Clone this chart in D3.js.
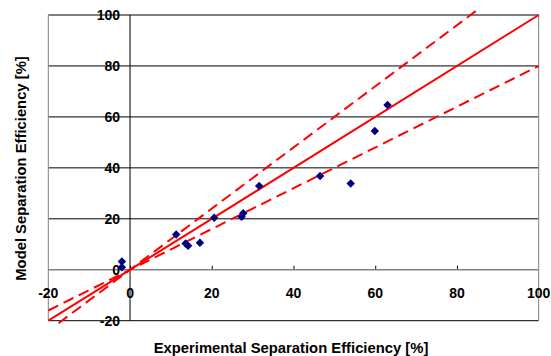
<!DOCTYPE html>
<html>
<head>
<meta charset="utf-8">
<script src="https://cdn.jsdelivr.net/npm/d3@7"></script>
<style>
  body { margin: 0; background: #fff; }
  svg text { font-family: Arial, "Liberation Sans", sans-serif; font-weight: bold; fill: #000; }
</style>
</head>
<body>
<svg id="chart" width="551" height="356"></svg>
<script>
// measured vs modelled separation efficiency [%]
const experimental = [-2.0, -2.0, 11.3, 13.6, 14.2, 17.1, 20.6, 27.3, 27.7, 31.6, 46.5, 54.0, 59.9, 63.0];
const model        = [ 3.2,  1.0, 13.8, 10.3,  9.4, 10.6, 20.4, 20.8, 22.2, 32.9, 36.8, 33.9, 54.5, 64.7];

// parity line and +/-20 % bounds, as [x, y] end points
const parityLine = [[-20, -20], [100, 100]];
const upperBound = [[-17.5, -21], [85, 102]];
const lowerBound = [[-20, -16], [100, 80]];

const xTicks = [-20, 0, 20, 40, 60, 80, 100];
const yTicks = [-20, 0, 20, 40, 60, 80, 100];

const width = 551, height = 356;
const margin = { top: 15, right: 12.3, bottom: 35.3, left: 48.3 };

const svg = d3.select('#chart');

const x = d3.scaleLinear().domain([-20, 100]).range([margin.left, width - margin.right]);
const y = d3.scaleLinear().domain([-20, 100]).range([height - margin.bottom, margin.top]);

// horizontal gridlines
svg.append('g')
    .selectAll('line')
    .data(yTicks.filter(d => d !== 0))
    .join('line')
    .attr('x1', x(-20)).attr('x2', x(100))
    .attr('y1', d => y(d)).attr('y2', d => y(d))
    .attr('stroke', '#000')
    .attr('stroke-width', 1);

// left / right frame
svg.append('g')
    .selectAll('line')
    .data([-20, 100])
    .join('line')
    .attr('x1', d => x(d)).attr('x2', d => x(d))
    .attr('y1', y(-20)).attr('y2', y(100))
    .attr('stroke', '#808080')
    .attr('stroke-width', 1);

// x axis through y = 0 (grey, ticks pointing up)
const xAxis = svg.append('g')
    .attr('transform', `translate(0,${y(0)})`)
    .call(d3.axisTop(x).tickValues(xTicks.slice(1, -1)).tickSize(4).tickFormat(''));
xAxis.select('.domain').remove();
xAxis.selectAll('line').attr('stroke', '#000');
svg.append('line')
    .attr('x1', x(-20)).attr('x2', x(100))
    .attr('y1', y(0)).attr('y2', y(0))
    .attr('stroke', '#808080')
    .attr('stroke-width', 1.5);

// y axis through x = 0
svg.append('line')
    .attr('x1', x(0)).attr('x2', x(0))
    .attr('y1', y(-20)).attr('y2', y(100))
    .attr('stroke', '#000')
    .attr('stroke-width', 1);

// tick labels
svg.append('g')
    .selectAll('text')
    .data(yTicks)
    .join('text')
    .attr('x', x(0) - 10)
    .attr('y', d => y(d) + 5)
    .attr('text-anchor', 'end')
    .attr('font-size', '14px')
    .text(d => d);

svg.append('g')
    .selectAll('text')
    .data(xTicks)
    .join('text')
    .attr('x', d => x(d))
    .attr('y', y(0) + 28)
    .attr('text-anchor', 'middle')
    .attr('font-size', '14px')
    .text(d => d);

// reference lines
const line = d3.line().x(d => x(d[0])).y(d => y(d[1]));

svg.append('path')
    .datum(parityLine)
    .attr('d', line)
    .attr('fill', 'none')
    .attr('stroke', '#ff0000')
    .attr('stroke-width', 2);

svg.append('g')
    .selectAll('path')
    .data([upperBound, lowerBound])
    .join('path')
    .attr('d', line)
    .attr('fill', 'none')
    .attr('stroke', '#ff0000')
    .attr('stroke-width', 2)
    .attr('stroke-dasharray', '11,6');

// data points
const points = experimental.map((v, i) => ({ x: v, y: model[i] }));
svg.append('g')
    .selectAll('path')
    .data(points)
    .join('path')
    .attr('d', d3.symbol(d3.symbolSquare, 36))
    .attr('transform', d => `translate(${x(d.x)},${y(d.y)}) rotate(45)`)
    .attr('fill', '#000080');

// axis titles
svg.append('text')
    .attr('x', 291)
    .attr('y', 353)
    .attr('text-anchor', 'middle')
    .attr('font-size', '14.8px')
    .text('Experimental Separation Efficiency [%]');

svg.append('text')
    .attr('transform', 'translate(25.5,168.5) rotate(-90)')
    .attr('text-anchor', 'middle')
    .attr('font-size', '14.8px')
    .text('Model Separation Efficiency [%]');
</script>
</body>
</html>
